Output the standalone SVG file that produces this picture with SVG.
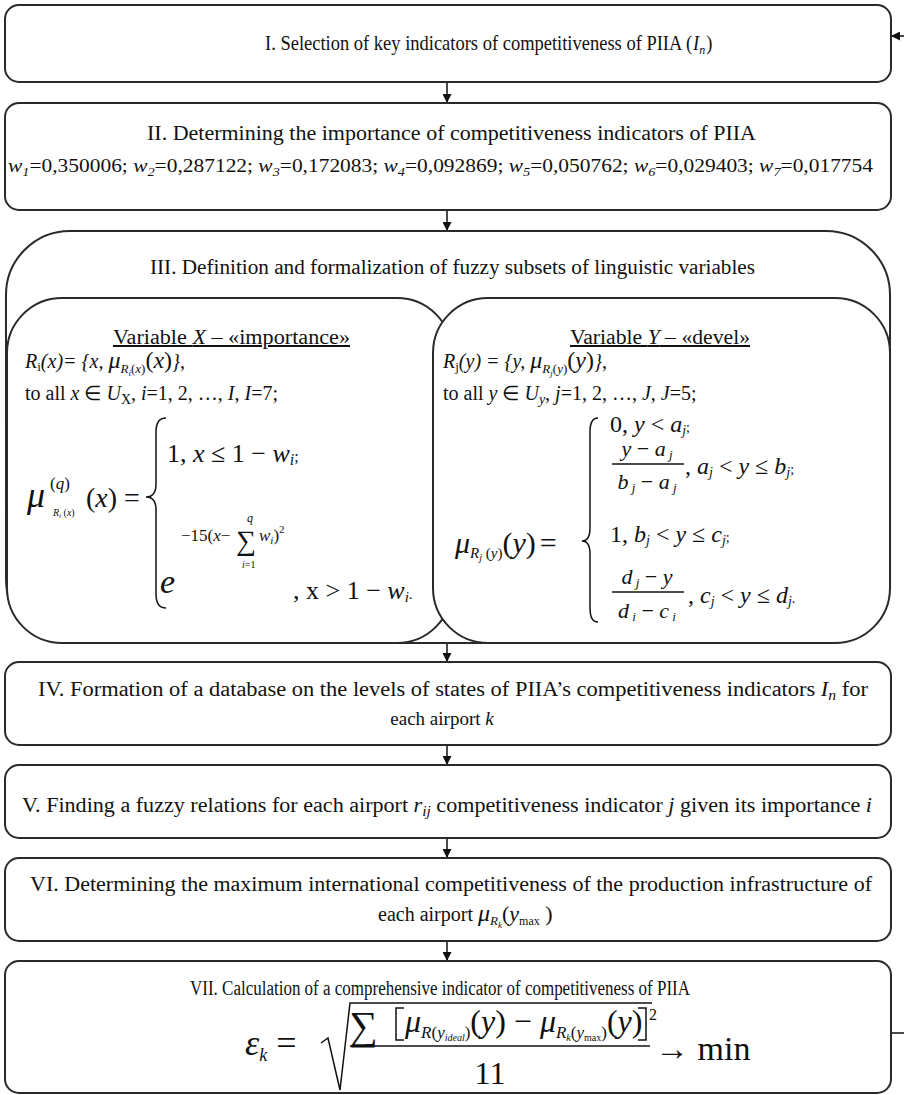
<svg xmlns="http://www.w3.org/2000/svg" width="904" height="1095" viewBox="0 0 904 1095">
<style>
.box{fill:#fff;stroke:#2a2a2a;stroke-width:2}
.t{font-family:'Liberation Serif','Times New Roman',serif;font-size:20px;fill:#111}
.i{font-style:italic}
.m{font-family:'Liberation Serif','Times New Roman',serif;fill:#111}
.ln{fill:none;stroke:#111;stroke-width:1.5}
.con{fill:none;stroke:#111;stroke-width:1.5}
</style>
<defs>
<marker id="ah" viewBox="0 0 10 10" refX="10" refY="5" markerWidth="9" markerHeight="9" markerUnits="userSpaceOnUse" orient="auto">
<path d="M0,0 L10,5 L0,10 z" fill="#111"/>
</marker>
</defs>
<rect width="904" height="1095" fill="#fff"/>

<g id="connectors">
<line class="con" x1="447" y1="82" x2="447" y2="103" marker-end="url(#ah)"/>
<line class="con" x1="447" y1="210" x2="447" y2="231" marker-end="url(#ah)"/>
<line class="con" x1="447" y1="643" x2="447" y2="662" marker-end="url(#ah)"/>
<line class="con" x1="447" y1="745" x2="447" y2="765" marker-end="url(#ah)"/>
<line class="con" x1="447" y1="838" x2="447" y2="858" marker-end="url(#ah)"/>
<line class="con" x1="447" y1="941" x2="447" y2="961" marker-end="url(#ah)"/>
<path class="con" d="M890,1033 H912 V36 H891" marker-end="url(#ah)"/>
</g>

<g id="node1">
<rect class="box" x="5" y="5" width="886" height="77" rx="14"/>
<text class="t" transform="translate(265,50) scale(0.925,1)">I. Selection of key indicators of competitiveness of PIIA (<tspan class="i" dx="1">I</tspan><tspan class="i" font-size="13" dy="4">n</tspan><tspan dx="1" dy="-4">)</tspan></text>
</g>

<g id="node2">
<rect class="box" x="5" y="103" width="886" height="107" rx="14"/>
<text class="t" x="147" y="140" textLength="609" lengthAdjust="spacingAndGlyphs">II. Determining the importance of competitiveness indicators of PIIA</text>
<text class="t" x="8" y="172" style="font-size:18px" textLength="865" lengthAdjust="spacingAndGlyphs"><tspan class="i">w</tspan><tspan class="i" font-size="12" dy="4">1</tspan><tspan dy="-4">=0,350006; </tspan><tspan class="i">w</tspan><tspan class="i" font-size="12" dy="4">2</tspan><tspan dy="-4">=0,287122; </tspan><tspan class="i">w</tspan><tspan class="i" font-size="12" dy="4">3</tspan><tspan dy="-4">=0,172083; </tspan><tspan class="i">w</tspan><tspan class="i" font-size="12" dy="4">4</tspan><tspan dy="-4">=0,092869; </tspan><tspan class="i">w</tspan><tspan class="i" font-size="12" dy="4">5</tspan><tspan dy="-4">=0,050762; </tspan><tspan class="i">w</tspan><tspan class="i" font-size="12" dy="4">6</tspan><tspan dy="-4">=0,029403; </tspan><tspan class="i">w</tspan><tspan class="i" font-size="12" dy="4">7</tspan><tspan dy="-4">=0,017754</tspan></text>
</g>

<g id="node3">
<rect class="box" x="6" y="231" width="884" height="412" rx="64"/>
<text class="t" x="150" y="274" textLength="605" lengthAdjust="spacingAndGlyphs">III. Definition and formalization of fuzzy subsets of linguistic variables</text>
</g>

<g id="node3a">
<rect class="box" x="7" y="298" width="445" height="345" rx="55"/>
<text class="t" x="113" y="344" textLength="237" lengthAdjust="spacingAndGlyphs" text-decoration="underline">Variable <tspan class="i">X</tspan> – «importance»</text>
<text class="t" x="25" y="368"><tspan class="i">R</tspan><tspan font-size="13" dy="3">i</tspan><tspan class="i" dy="-3">(x)= {x, </tspan><tspan class="i" font-size="24"> μ</tspan><tspan class="i" font-size="13" dy="5">R</tspan><tspan class="i" font-size="9" dy="3">i</tspan><tspan font-size="13" dy="-3">(</tspan><tspan class="i" font-size="13">x</tspan><tspan font-size="13">)</tspan><tspan font-size="24" dy="-5">(</tspan><tspan class="i" font-size="24">x</tspan><tspan font-size="24">)</tspan><tspan class="i">}</tspan>,</text>
<text class="t" x="25" y="400">to all <tspan class="i">x</tspan> ∈ <tspan class="i">U</tspan><tspan font-size="14" dy="4">X</tspan><tspan dy="-4">, </tspan><tspan class="i">i</tspan>=1, 2, …, <tspan class="i">I</tspan>, <tspan class="i">I</tspan>=7;</text>
<text class="m i" x="27" y="507" font-size="36">μ</text>
<text class="m" x="50" y="489" font-size="17">(<tspan class="i">q</tspan>)</text>
<text class="m" x="53" y="516" font-size="10"><tspan class="i">R</tspan><tspan font-size="7" dy="2" class="i">i</tspan><tspan dy="-2"> (</tspan><tspan class="i">x</tspan>)</text>
<text class="m" x="86" y="507" font-size="28">(<tspan class="i">x</tspan>) =</text>
<path class="ln" d="M166,418 Q156,418 156,432 L156,484 Q156,497 146,497 Q156,497 156,510 L156,594 Q156,608 166,608"/>
<text class="m" x="167" y="462" font-size="26">1, <tspan class="i">x</tspan> ≤ 1 − <tspan class="i">w</tspan><tspan class="i" font-size="16" dy="3">i</tspan><tspan font-size="16" dy="-3">;</tspan></text>
<text class="m i" x="160" y="593" font-size="34">e</text>
<text class="m" x="181" y="541" font-size="17">−15(<tspan class="i">x</tspan>−</text>
<text class="m" x="236" y="550" font-size="28">∑</text>
<text class="m i" x="247" y="522" font-size="12">q</text>
<text class="m" x="242" y="568" font-size="10"><tspan class="i">i</tspan>=1</text>
<text class="m" x="259" y="541" font-size="17"><tspan class="i">w</tspan><tspan class="i" font-size="11" dy="3">i</tspan><tspan dy="-3">)</tspan><tspan font-size="11" dy="-8">2</tspan></text>
<text class="m" x="293" y="599" font-size="26">, x &gt; 1 − <tspan class="i">w</tspan><tspan class="i" font-size="15" dy="3">i</tspan><tspan font-size="15" dy="-3">.</tspan></text>
</g>

<g id="node3b">
<rect class="box" x="433" y="298" width="457" height="345" rx="55"/>
<text class="t" x="570" y="344" textLength="180" lengthAdjust="spacingAndGlyphs" text-decoration="underline">Variable <tspan class="i">Y</tspan> – «devel»</text>
<text class="t" x="443" y="368"><tspan class="i">R</tspan><tspan font-size="13" dy="3">j</tspan><tspan class="i" dy="-3">(y) = {y, </tspan><tspan class="i" font-size="24"> μ</tspan><tspan class="i" font-size="13" dy="5">R</tspan><tspan class="i" font-size="9" dy="3">j</tspan><tspan font-size="13" dy="-3">(</tspan><tspan class="i" font-size="13">y</tspan><tspan font-size="13">)</tspan><tspan font-size="24" dy="-5">(</tspan><tspan class="i" font-size="24">y</tspan><tspan font-size="24">)</tspan><tspan class="i">}</tspan>,</text>
<text class="t" x="443" y="400">to all <tspan class="i">y</tspan> ∈ <tspan class="i">U</tspan><tspan class="i" font-size="14" dy="4">y</tspan><tspan dy="-4">, </tspan><tspan class="i">j</tspan>=1, 2, …, <tspan class="i">J</tspan>, <tspan class="i">J</tspan>=5;</text>
<text class="m" x="455" y="553" font-size="30"><tspan class="i">μ</tspan><tspan class="i" font-size="15" dy="5">R</tspan><tspan class="i" font-size="10" dy="3">j</tspan><tspan font-size="15" dy="-3"> (</tspan><tspan class="i" font-size="15">y</tspan><tspan font-size="15">)</tspan><tspan dy="-5">(</tspan><tspan class="i">y</tspan>)<tspan dx="4">=</tspan></text>
<path class="ln" d="M598,418 Q590,418 590,432 L590,528 Q590,541 582,541 Q590,541 590,554 L590,608 Q590,622 598,622"/>
<text class="m" x="610" y="432" font-size="24">0, <tspan class="i">y</tspan> &lt; <tspan class="i">a</tspan><tspan class="i" font-size="14" dy="3">j</tspan><tspan font-size="14" dy="-3">;</tspan></text>
<text class="m" x="647" y="456" font-size="22" text-anchor="middle"><tspan class="i">y</tspan> − <tspan class="i">a</tspan><tspan class="i" font-size="13" dy="3"> j</tspan></text>
<line class="ln" x1="612" y1="464" x2="684" y2="464" stroke-width="1.2"/>
<text class="m" x="647" y="489" font-size="22" text-anchor="middle"><tspan class="i">b</tspan><tspan class="i" font-size="13" dy="3"> j</tspan><tspan dy="-3"> − </tspan><tspan class="i">a</tspan><tspan class="i" font-size="13" dy="3"> j</tspan></text>
<text class="m" x="685" y="474" font-size="24">, <tspan class="i">a</tspan><tspan class="i" font-size="14" dy="3">j</tspan><tspan dy="-3"> &lt; </tspan><tspan class="i">y</tspan> ≤ <tspan class="i">b</tspan><tspan class="i" font-size="14" dy="3">j</tspan><tspan font-size="14" dy="-3">;</tspan></text>
<text class="m" x="610" y="542" font-size="24">1, <tspan class="i">b</tspan><tspan class="i" font-size="14" dy="3">j</tspan><tspan dy="-3"> &lt; </tspan><tspan class="i">y</tspan> ≤ <tspan class="i">c</tspan><tspan class="i" font-size="14" dy="3">j</tspan><tspan font-size="14" dy="-3">;</tspan></text>
<text class="m" x="647" y="584" font-size="22" text-anchor="middle"><tspan class="i">d</tspan><tspan class="i" font-size="13" dy="3"> j</tspan><tspan dy="-3"> − </tspan><tspan class="i">y</tspan></text>
<line class="ln" x1="612" y1="592" x2="684" y2="592" stroke-width="1.2"/>
<text class="m" x="647" y="618" font-size="22" text-anchor="middle"><tspan class="i">d</tspan><tspan class="i" font-size="13" dy="3"> i</tspan><tspan dy="-3"> − </tspan><tspan class="i">c</tspan><tspan class="i" font-size="13" dy="3"> i</tspan></text>
<text class="m" x="688" y="603" font-size="24">, <tspan class="i">c</tspan><tspan class="i" font-size="14" dy="3">j</tspan><tspan dy="-3"> &lt; </tspan><tspan class="i">y</tspan> ≤ <tspan class="i">d</tspan><tspan class="i" font-size="14" dy="3">j</tspan><tspan font-size="14" dy="-3">.</tspan></text>
</g>

<g id="node4">
<rect class="box" x="5" y="662" width="886" height="83" rx="14"/>
<text class="t" x="38" y="696" textLength="830" lengthAdjust="spacingAndGlyphs">IV. Formation of a database on the levels of states of PIIA’s competitiveness indicators <tspan class="i">I</tspan><tspan class="i" font-size="14" dy="4">n</tspan><tspan dy="-4"> for</tspan></text>
<text class="t" x="442" y="725" text-anchor="middle" style="font-size:19px">each airport <tspan class="i">k</tspan></text>
</g>

<g id="node5">
<rect class="box" x="5" y="765" width="886" height="73" rx="14"/>
<text class="t" x="22" y="812" textLength="850" lengthAdjust="spacingAndGlyphs">V. Finding a fuzzy relations for each airport <tspan class="i">r</tspan><tspan class="i" font-size="14" dy="4">ij</tspan><tspan dy="-4"> competitiveness indicator </tspan><tspan class="i">j</tspan> given its importance <tspan class="i">i</tspan></text>
</g>

<g id="node6">
<rect class="box" x="5" y="858" width="886" height="83" rx="14"/>
<text class="t" x="30" y="891" textLength="842" lengthAdjust="spacingAndGlyphs">VI. Determining the maximum international competitiveness of the production infrastructure of</text>
<text class="t" x="378" y="921">each airport  <tspan class="i" font-size="24">μ</tspan><tspan class="i" font-size="13" dy="4">R</tspan><tspan class="i" font-size="9" dy="3">k</tspan><tspan font-size="22" dy="-7">(</tspan><tspan class="i" font-size="22">y</tspan><tspan font-size="12" dy="4">max</tspan><tspan font-size="22" dy="-4"> )</tspan></text>
</g>

<g id="node7">
<rect class="box" x="5" y="961" width="886" height="132" rx="14"/>
<text class="t" x="190" y="995" textLength="500" lengthAdjust="spacingAndGlyphs">VII. Calculation of a comprehensive indicator of competitiveness of PIIA</text>
<text class="m" x="245" y="1055" font-size="36"><tspan class="i">ε</tspan><tspan class="i" font-size="18" dy="6">k</tspan><tspan dy="-6"> =</tspan></text>
<path class="ln" d="M321,1043 L328,1038 L340,1090 L350,1003 L652,1003"/>
<text class="m" x="349" y="1039" font-size="40">∑</text>
<path class="ln" d="M404,1008 L396,1008 L396,1040 L404,1040"/>
<text class="m" x="405" y="1032" font-size="32"><tspan class="i">μ</tspan><tspan class="i" font-size="17" dy="6">R</tspan><tspan font-size="17">(</tspan><tspan class="i" font-size="17">y</tspan><tspan class="i" font-size="10" dy="3">ideal</tspan><tspan font-size="17" dy="-3">)</tspan><tspan dy="-6">(</tspan><tspan class="i">y</tspan>) − <tspan class="i">μ</tspan><tspan class="i" font-size="17" dy="6">R</tspan><tspan class="i" font-size="10" dy="3">k</tspan><tspan font-size="17" dy="-3">(</tspan><tspan class="i" font-size="17">y</tspan><tspan font-size="10" dy="3">max</tspan><tspan font-size="17" dy="-3">)</tspan><tspan dy="-6">(</tspan><tspan class="i">y</tspan>)</text>
<path class="ln" d="M638,1008 L646,1008 L646,1040 L638,1040"/>
<text class="m" x="649" y="1020" font-size="16">2</text>
<line class="ln" x1="350" y1="1046" x2="650" y2="1046"/>
<text class="m" x="490" y="1084" font-size="32" text-anchor="middle">11</text>
<text class="m" x="655" y="1060" font-size="34">→ min</text>
</g>
</svg>
